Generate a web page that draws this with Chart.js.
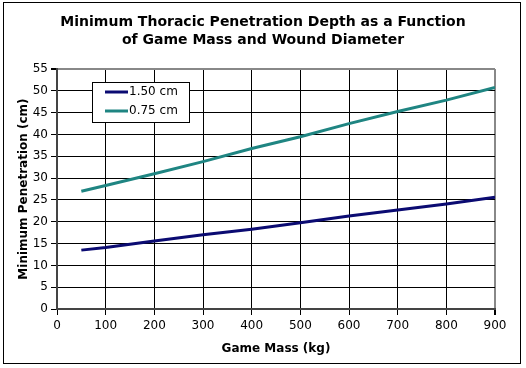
<!DOCTYPE html>
<html>
<head>
<meta charset="utf-8">
<script src="https://cdn.jsdelivr.net/npm/chart.js@4"></script>
<style>
  html, body { margin: 0; padding: 0; background: #fff; }
  #wrap { width: 526px; height: 368px; }
</style>
</head>
<body>
<div id="wrap"><canvas id="penChart"></canvas></div>
<script>
// Data
const gameMass = [50, 100, 200, 300, 400, 500, 600, 700, 800, 900];
const pen150 = [13.5, 14.1, 15.6, 17.0, 18.3, 19.8, 21.3, 22.7, 24.1, 25.6];
const pen075 = [27.0, 28.3, 31.0, 33.8, 36.8, 39.5, 42.5, 45.3, 47.9, 50.8];
const seriesLabels = ['1.50 cm', '0.75 cm'];
const titleLines = ['Minimum Thoracic Penetration Depth as a Function', 'of Game Mass and Wound Diameter'];

const FONT = '"DejaVu Sans", Verdana, sans-serif';

// Outer frame around the whole picture
const framePlugin = {
  id: 'frame',
  beforeDraw(chart) {
    const ctx = chart.ctx;
    ctx.save();
    ctx.fillStyle = '#fff';
    ctx.fillRect(0, 0, chart.width, chart.height);
    ctx.strokeStyle = '#000';
    ctx.lineWidth = 1;
    ctx.strokeRect(3.5, 2.5, chart.width - 9, chart.height - 7);
    ctx.restore();
  }
};

// Boxed legend sitting inside the plot area
const boxLegend = {
  id: 'boxLegend',
  afterDraw(chart) {
    const ctx = chart.ctx;
    const x = 92, y = 82, w = 97, h = 40;
    ctx.save();
    ctx.fillStyle = '#fff';
    ctx.fillRect(x, y, w, h);
    ctx.strokeStyle = '#000';
    ctx.lineWidth = 1;
    ctx.strokeRect(x + 0.5, y + 0.5, w, h);
    ctx.font = '12px ' + FONT;
    ctx.textBaseline = 'middle';
    chart.data.datasets.forEach((ds, i) => {
      const ry = y + 10 + i * 19;
      ctx.strokeStyle = ds.borderColor;
      ctx.lineWidth = 3;
      ctx.beginPath();
      ctx.moveTo(x + 13, ry);
      ctx.lineTo(x + 36, ry);
      ctx.stroke();
      ctx.fillStyle = '#000';
      ctx.fillText(ds.label, x + 37, ry);
    });
    ctx.restore();
  }
};

const ctx = document.getElementById('penChart').getContext('2d');
new Chart(ctx, {
  type: 'line',
  data: {
    datasets: [
      {
        label: seriesLabels[0],
        data: gameMass.map((m, i) => ({ x: m, y: pen150[i] })),
        borderColor: '#0b0b72',
        borderWidth: 3,
        pointRadius: 0,
        tension: 0
      },
      {
        label: seriesLabels[1],
        data: gameMass.map((m, i) => ({ x: m, y: pen075[i] })),
        borderColor: '#1f8582',
        borderWidth: 3,
        pointRadius: 0,
        tension: 0
      }
    ]
  },
  options: {
    responsive: true,
    maintainAspectRatio: false,
    animation: false,
    layout: { padding: 0 },
    plugins: {
      legend: { display: false },
      tooltip: { enabled: false },
      title: {
        display: true,
        text: titleLines,
        color: '#000',
        font: { family: FONT, size: 14, weight: 'bold', lineHeight: 1.29 },
        padding: { top: 13, bottom: 20 }
      }
    },
    scales: {
      x: {
        type: 'linear',
        min: 0,
        max: 900,
        afterFit(scale) { scale.height = 59; },
        ticks: {
          stepSize: 100,
          color: '#000',
          padding: 4,
          font: { family: FONT, size: 12 }
        },
        grid: {
          color: c => (c.tick && c.tick.value === 900 ? '#888' : '#000'),
          lineWidth: c => (c.tick && c.tick.value === 900 ? 2 : 1),
          tickColor: '#000',
          tickLength: 6
        },
        border: { color: '#444', width: 2 },
        title: {
          display: true,
          text: 'Game Mass (kg)',
          color: '#000',
          font: { family: FONT, size: 12, weight: 'bold' },
          padding: { top: 0, bottom: 12 }
        }
      },
      y: {
        min: 0,
        max: 55,
        afterFit(scale) { scale.width = 57; },
        ticks: {
          stepSize: 5,
          color: '#000',
          padding: 3,
          font: { family: FONT, size: 12 }
        },
        grid: {
          color: c => (c.tick && c.tick.value === 55 ? '#888' : '#000'),
          lineWidth: c => (c.tick && c.tick.value === 55 ? 2 : 1),
          tickColor: '#000',
          tickLength: 6
        },
        border: { color: '#444', width: 2 },
        title: {
          display: true,
          text: 'Minimum Penetration (cm)',
          color: '#000',
          font: { family: FONT, size: 12, weight: 'bold' },
          padding: { top: 17, bottom: 0 }
        }
      },
      // empty right-hand spacer so the title centres over the full picture
      spacer: {
        type: 'linear',
        position: 'right',
        afterFit(scale) { scale.width = 31; },
        ticks: { display: false },
        grid: { display: false },
        border: { display: false }
      }
    }
  },
  plugins: [framePlugin, boxLegend]
});
</script>
</body>
</html>
